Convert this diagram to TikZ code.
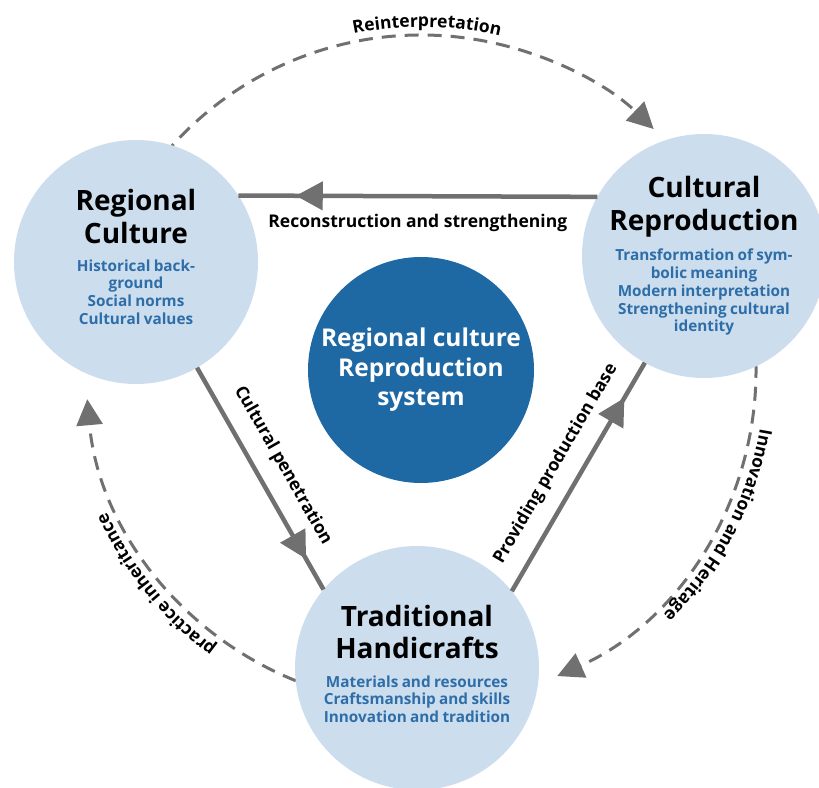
\documentclass[tikz,border=0pt]{standalone}
\usepackage{fontspec}
\setmainfont{Open Sans}
\usetikzlibrary{arrows.meta,decorations.markings,decorations.text,calc}

\definecolor{bubblefill}{RGB}{204,221,238}
\definecolor{hubfill}{RGB}{30,104,164}
\definecolor{subblue}{RGB}{46,110,168}
\definecolor{linkgray}{RGB}{112,112,112}

\newcommand{\titlefont}{\fontsize{28}{32.5}\selectfont\bfseries}
\newcommand{\subfont}{\fontsize{15.3}{17.8}\selectfont\bfseries\color{subblue}}
\newcommand{\linkfont}{\fontsize{17.5}{20}\selectfont\bfseries}

\tikzset{
  bubble/.style={circle, fill=bubblefill, minimum size=244pt, inner sep=0pt, outer sep=0pt},
  hub/.style={circle, fill=hubfill, minimum size=226pt, inner sep=0pt, outer sep=0pt,
    text=white, align=center, font=\fontsize{24.5}{29.5}\selectfont\bfseries},
  bubbletext/.style={text width=230pt, align=center, inner sep=0pt},
  solidlink/.style={linkgray, line width=4.5pt, postaction={decorate}},
  tipat/.style={decoration={markings, mark=at position #1 with {\arrow{Triangle[length=27pt,width=28pt]}}}},
  ringlink/.style={linkgray, line width=3pt, dash pattern=on 14pt off 9pt, -{Triangle[length=26pt,width=26pt]}},
  ringtext/.style={decorate, decoration={text along path, text={|\linkfont|#1}, text align=center}},
  linklabel/.style={font=\linkfont, text=black, inner sep=0pt},
}

\begin{document}
\begin{tikzpicture}[x=1pt, y=1pt]
  \useasboundingbox (0,0) rectangle (819,787);

  % centre
  \node[hub] (ctr) at (421,417) {Regional culture\\Reproduction\\system};

  % outer ring, dashed
  \coordinate (re-from) at ([shift={(140:335pt)}]ctr.center);
  \coordinate (ih-from) at ([shift={(5:335pt)}]ctr.center);
  \coordinate (pi-from) at ([shift={(-108:335pt)}]ctr.center);
  \draw[ringlink] (re-from) arc[start angle=140, end angle=46, radius=335pt];
  \draw[ringlink] (ih-from) arc[start angle=5, end angle=-66, radius=335pt];
  \draw[ringlink] (pi-from) arc[start angle=-108, end angle=-175, radius=335pt];

  % the three bubbles
  \node[bubble] (rc) at (136,525) {};
  \node[bubble] (cr) at (704,531) {};
  \node[bubble] (th) at (417,119) {};

  \node[bubbletext] (rc-txt) at ([yshift=5pt]rc.center)
    {{\titlefont Regional\\Culture\par}\vspace{10pt}
     {\subfont Historical back-\\ground\\Social norms\\Cultural values\par}};
  \node[bubbletext] (cr-txt) at (cr.center)
    {{\titlefont Cultural\\Reproduction\par}\vspace{11pt}
     {\subfont Transformation of sym-\\bolic meaning\\Modern interpretation\\Strengthening cultural\\identity\par}};
  \node[bubbletext] (th-txt) at ([yshift=4pt]th.center)
    {{\titlefont Traditional\\Handicrafts\par}\vspace{10.5pt}
     {\subfont Materials and resources\\Craftsmanship and skills\\Innovation and tradition\par}};

  % solid links
  \draw[solidlink, tipat=0.84] (cr.151) -- (rc.33)
    node[linklabel, midway, below=16pt] (rs-lbl) {Reconstruction and strengthening};
  \draw[solidlink, tipat=0.862] (rc.-60) -- (th.140)
    node[linklabel, midway, sloped, above=15pt] (cp-lbl) {Cultural penetration};
  \draw[solidlink, tipat=0.846] (th.39) -- (cr.-119)
    node[linklabel, midway, sloped, above=15pt] (pb-lbl) {Providing production base};

  % ring labels
  \path[ringtext=Reinterpretation] ([shift={(129:343pt)}]ctr.center) arc[start angle=129, end angle=49, radius=343pt];
  \path[ringtext=Innovation and Heritage] ([shift={(12:344pt)}]ctr.center) arc[start angle=12, end angle=-67, radius=344pt];
  \path[ringtext=practice inheritance] ([shift={(-101:345pt)}]ctr.center) arc[start angle=-101, end angle=-181, radius=345pt];
\end{tikzpicture}
\end{document}
